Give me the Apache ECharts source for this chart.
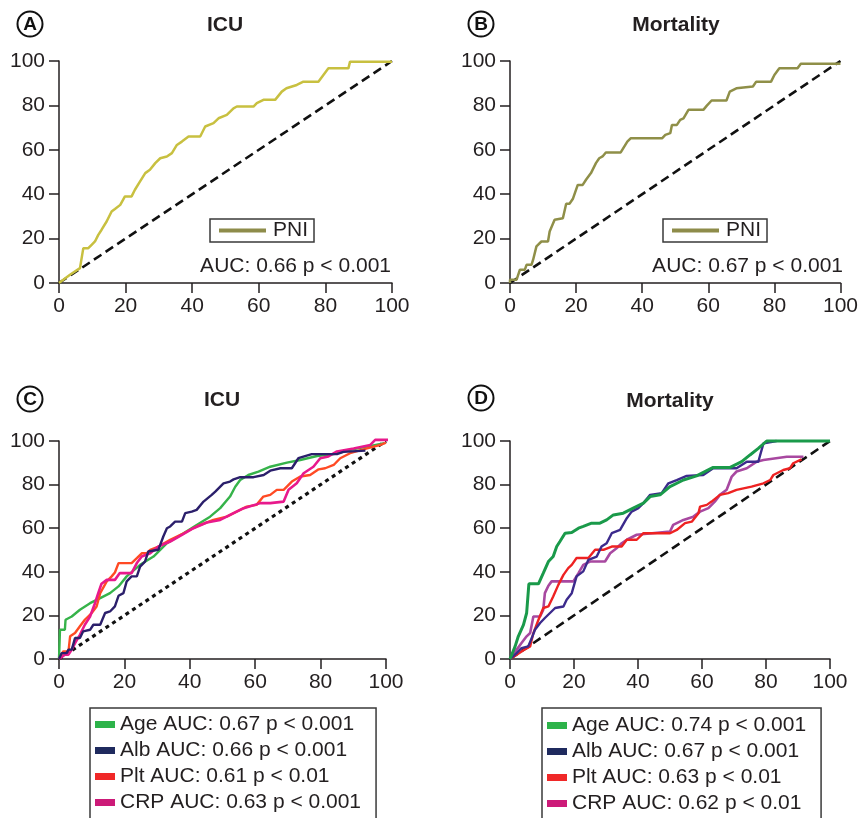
<!DOCTYPE html>
<html><head><meta charset="utf-8">
<script src="https://cdn.jsdelivr.net/npm/echarts@6/dist/echarts.min.js"></script>
<style>html,body{margin:0;padding:0;background:#fff}#c{width:861px;height:818px}</style>
</head><body><div id="c"></div>
<script>
// ---- data (x = 100 - specificity %, y = sensitivity %) ----
var ticks = [0, 20, 40, 60, 80, 100];
var diagonal = [[0,0],[100,100]];

var icuPNI = [[0,0],[3.3,3.7],[6.3,6.7],[7.3,15.7],[8.8,15.7],[9.8,17.2],[10.8,18.7],[11.8,21.7],[12.8,24],[14.3,27.7],[15.8,32.2],[16.8,33.3],[18.4,35.2],[19.8,39],[21.8,39],[22.8,42],[24.3,45.7],[25.9,49.5],[27.3,51],[28.9,54],[30.4,56.2],[32.4,57],[33.9,58.5],[35.4,62.2],[36.9,63.7],[38.9,66],[42.4,66],[43.9,70.5],[46.4,72],[47.9,74.2],[50.4,75.7],[52.4,78.7],[53.4,79.5],[58.4,79.5],[59.4,81],[61.4,82.5],[64.9,82.5],[66.9,86.2],[68.3,87.7],[71.4,89.2],[73.4,90.7],[77.9,90.7],[79.4,93.7],[80.9,96.7],[86.9,96.7],[87.4,99.7],[100,99.7]];

var mortPNI = [[0,0],[0,1.5],[2,1.5],[3,6],[4.5,6],[5,8.2],[6.5,8.2],[7,10.5],[8,16.5],[9.5,18.7],[11.5,18.7],[12,23.2],[13.5,28.5],[16,29.2],[17,35.7],[18,35.7],[19,37.8],[20.5,44.2],[22,44.2],[23,46.5],[24.5,49.5],[26,54],[27,56.2],[28,57],[29,58.8],[33.5,58.8],[35.5,63.7],[36.5,65.2],[46,65.2],[47,66.7],[48.5,67.5],[49,71.2],[50.5,71.2],[51.5,73.5],[52.5,74.2],[54,78],[58.5,78],[59.5,79.8],[61,82.2],[65.5,82.2],[66.5,86.2],[68.5,87.7],[69,88.5],[73.5,88.5],[74.5,90.7],[79,90.7],[80,93.7],[81.5,96.7],[87,96.7],[88,98.8],[100,98.8]];

var icuAge = [[0,0],[0.3,13.4],[1.8,13.4],[2,18],[3.9,19.5],[6.4,22.6],[9.5,25.6],[12.6,27.9],[15.6,30.2],[18.2,33.3],[20.7,37.9],[24.8,43.2],[28.9,47],[33,53.1],[38.1,57.7],[42.1,61.5],[46.2,65.3],[49.3,69.2],[52.3,74.5],[53.9,79],[55.4,82.1],[57.9,84.4],[61,86],[64.6,88.2],[69.7,90.1],[73.8,91.3],[78.9,93.1],[84,94],[89,95.9],[94.2,97.4],[99.5,99]];
var icuAlb = [[0,0],[0.8,2.7],[2.3,2.7],[2.9,4.3],[3.9,4.3],[4.9,9.6],[6.4,9.6],[7.4,12.7],[9.5,13.4],[10.5,15.7],[12.6,15.7],[14.1,21.1],[15.6,21.8],[17.1,24.1],[18.2,29],[19.7,30.2],[20.7,35.6],[22.2,37.9],[23.8,37.9],[24.8,42.4],[26.3,44.7],[27.3,49.3],[30.4,50.1],[31.9,56.2],[33,60],[34,60.8],[35.5,63],[37.6,63],[38.6,66.9],[40.6,67.6],[42.1,68.4],[44.2,72.2],[46.7,75.3],[47.8,76.8],[50.3,80.6],[52.3,81.4],[53.4,82.4],[55.4,83.4],[59.5,83.4],[62.6,84.4],[64.6,86.4],[67.7,87.5],[71.2,87.5],[73.2,92.1],[77.3,94],[85,94],[87,95],[93.7,95.6]];
var icuPlt = [[0,0],[1.3,3.5],[2.9,3.5],[3.4,10.4],[4.9,11.9],[6.4,15],[7.9,18],[10,21.1],[11.5,24.1],[12.6,30.2],[14.6,35.6],[16.1,37.9],[17.1,39.7],[18.2,44],[22.2,44],[23.8,46.3],[25.3,48.5],[26.8,48.5],[27.9,50.1],[30.4,51.6],[34,54.7],[38.1,57.7],[42.1,60.8],[47.2,63.8],[51.3,65.3],[54.3,67.6],[57.4,69.9],[60.4,70.7],[62.5,74.5],[64.6,75.3],[66.6,77.6],[68.7,77.6],[71.2,81.4],[73.8,83.7],[76.8,84.4],[79.4,87],[81.4,87.5],[84,89],[86,92.1],[89,94.4],[94.2,96.6],[98.3,98.2],[100,99.2]];
var icuCRP = [[0,0],[1.8,2],[2.9,2],[3.9,4.3],[4.9,7.3],[6.4,11.1],[7.9,15.7],[9.5,19.5],[11,25.6],[12,30.2],[13,34.5],[14.6,36.3],[17.1,36.3],[18.6,39.4],[22.2,39.4],[23.8,44],[25.3,47],[27.9,48.5],[30.4,51.6],[34,53.9],[37.6,56.9],[41.1,60],[45.2,62.6],[49.3,63.8],[53.4,66.9],[56.5,69.2],[61.6,71.5],[64.6,71.5],[68.7,72.2],[70.2,77.6],[72.7,80.6],[74.8,85.2],[77.8,88.2],[79.9,92.1],[82.4,92.9],[85,95.2],[90.1,96.6],[95.2,98.2],[96.7,100.5],[101.5,100.5]];

var mortAge = [[0,0],[1.6,5.8],[2.6,10.4],[4.2,15.7],[5.2,21.1],[5.7,21.8],[5.9,34.5],[8.9,34.5],[10.4,39.4],[12,44.7],[13.5,47],[14.6,51.6],[15.6,53.9],[17.2,57.7],[19.3,58],[21.4,60],[22.9,60.8],[25.5,62.3],[28.1,62.3],[30.2,63.8],[32.3,66.1],[35.4,66.9],[38.5,69.2],[41.7,71.5],[43.8,74.5],[46.9,75.3],[50,79.1],[54.2,82.1],[58.3,84],[61.5,86.4],[63.5,87.9],[68.8,87.9],[72.4,90.5],[75,93.6],[77.6,96.6],[80.2,100],[100,100]];
var mortAlb = [[0,0],[2.1,2.7],[3.6,5],[5.7,5.8],[6.8,9.6],[7.8,13.4],[9.4,16.5],[10.9,18.8],[12.5,21.1],[14.1,23.4],[16.7,24.1],[17.7,27.2],[19.3,30.2],[20.8,37.9],[22.9,40.2],[24.5,45.5],[27.1,47],[28.6,51.6],[30.2,53.1],[31.8,57.7],[34.4,59.2],[36.5,64.6],[38,67.6],[40.1,69.2],[41.7,71.5],[43.8,75.3],[47.4,76.1],[49.5,80.6],[52.1,82.1],[55.2,84],[60.4,84.4],[63.5,87.5],[70.8,87.5],[74,90.5],[77.6,90.5],[79.2,98.9],[80.2,99.2],[83.3,100]];
var mortPlt = [[0,0],[2.1,2],[4.2,4],[6.3,5.8],[7.3,11.9],[8.9,18],[10.4,23.4],[12,24.1],[13.5,28.7],[15.1,34],[16.7,38.6],[18.2,41.7],[19.3,43.2],[20.8,46.3],[24.5,46.3],[26.6,50.1],[29.2,50.1],[31.8,51.6],[34.9,51.6],[36.5,54.7],[39.6,54.7],[41.7,57.7],[50,57.7],[52.1,59.2],[54.7,62.3],[56.8,63],[58.9,66.9],[59.4,69.9],[61.5,70.7],[63,72.2],[65.6,75.3],[68.2,76.1],[70.8,77.6],[75.5,79.1],[79.2,80.6],[81.3,82.1],[82.3,84.4],[85.4,86.7],[87.5,87.5],[88.5,89.8],[91.1,91.6]];
var mortCRP = [[0,0],[2.1,4.3],[3.6,7.3],[5.2,10.4],[6.3,11.9],[7.3,19.5],[9.4,19.5],[10.4,22.6],[10.9,30.2],[12,33.6],[13,35.6],[19.8,35.6],[21.4,39.4],[22.9,43.2],[25,44.7],[29.7,44.7],[31.3,48.5],[33.3,50.8],[34.9,53.1],[36.5,54.7],[39.6,57],[50,58.5],[51,61.5],[54.2,63.8],[57.3,65.3],[59.4,67.6],[62,69.2],[64,72.2],[65.6,75.3],[67.7,77.6],[69.3,83.7],[70.8,86],[74,87.5],[77.1,90.5],[79.2,91.3],[86.5,92.8],[91.7,92.8]];

var namesC = ['Age AUC: 0.67 p < 0.001','Alb AUC: 0.66 p < 0.001','Plt AUC: 0.61 p < 0.01','CRP AUC: 0.63 p < 0.001'];
var namesD = ['Age AUC: 0.74 p < 0.001','Alb AUC: 0.67 p < 0.001','Plt AUC: 0.63 p < 0.01','CRP AUC: 0.62 p < 0.01'];
var aucA = 'AUC: 0.66 p < 0.001';
var aucB = 'AUC: 0.67 p < 0.001';

// ---- chart ----
var FONT = '"Liberation Sans", Arial, sans-serif';
var INK = '#231f20';
var chart = echarts.init(document.getElementById('c'), null, {renderer:'canvas'});

var grids = [
  {left:59, top:61, width:333, height:222},
  {left:510, top:61, width:333, height:222},
  {left:59, top:441, width:327, height:218},
  {left:510, top:441, width:320, height:218}
];
function xAx(i){return {type:'value', gridIndex:i, min:0, max:100, interval:20,
  axisLine:{show:true, lineStyle:{color:INK, width:1.5}},
  axisTick:{show:true, length:10, lineStyle:{color:INK, width:1.5}},
  axisLabel:{color:INK, fontSize:21, fontFamily:FONT, margin:13},
  splitLine:{show:false}};}
function yAx(i){return {type:'value', gridIndex:i, min:0, max:100, interval:20,
  axisLine:{show:true, lineStyle:{color:INK, width:1.5}},
  axisTick:{show:true, length:10, lineStyle:{color:INK, width:1.5}},
  axisLabel:{color:INK, fontSize:21, fontFamily:FONT, margin:14},
  splitLine:{show:false}};}
function curve(name, i, data, color, w, z){return {type:'line', name:name, xAxisIndex:i, yAxisIndex:i,
  data:data, showSymbol:false, symbol:'none', clip:false, animation:false, z:z||3,
  lineStyle:{color:color, width:w||2.5}, itemStyle:{color:color}};}
function diag(i, dash, w){return {type:'line', name:'ref'+i, xAxisIndex:i, yAxisIndex:i, data:diagonal,
  symbol:'none', clip:false, animation:false, z:2, silent:true,
  lineStyle:{color:'#111', width:w, type:dash}};}

var legendBase = {orient:'vertical', icon:'rect', selectedMode:false, borderColor:'#3a3a3a', borderWidth:1.5,
  textStyle:{fontSize:21, color:INK, fontFamily:FONT}};
var legColors = ['#2db34a','#1f2a5e','#f02828','#cc1a78'];

function letter(cx, cy, t){return {type:'group', children:[
  {type:'circle', shape:{cx:cx, cy:cy, r:12.5}, style:{fill:'none', stroke:'#111', lineWidth:2}},
  {type:'text', style:{x:cx, y:cy+1, text:t, align:'center', verticalAlign:'middle', font:'bold 19px '+FONT, fill:'#111'}}
]};}
function txt(x, y, t, align, bold){return {type:'text', style:{x:x, y:y, text:t, align:align, verticalAlign:'middle',
  font:(bold?'bold ':'')+'21px '+FONT, fill:INK}};}

var option = {
  animation:false,
  textStyle:{fontFamily:FONT},
  grid:grids,
  xAxis:[xAx(0),xAx(1),xAx(2),xAx(3)],
  yAxis:[yAx(0),yAx(1),yAx(2),yAx(3)],
  legend:[
    Object.assign({}, legendBase, {left:210, top:219, padding:[1,6,1,9], itemWidth:47, itemHeight:4,
      data:[{name:'PNI', itemStyle:{color:'#8e8c4a'}}], textStyle:Object.assign({}, legendBase.textStyle,{padding:[0,0,0,2]})}),
    Object.assign({}, legendBase, {left:663, top:219, padding:[1,6,1,9], itemWidth:47, itemHeight:4,
      data:[{name:'PNI', itemStyle:{color:'#8e8c4a'}}], textStyle:Object.assign({}, legendBase.textStyle,{padding:[0,0,0,2]})}),
    Object.assign({}, legendBase, {left:90, top:708, height:120, padding:[6,15,6,5], itemWidth:20, itemHeight:7, itemGap:5,
      data:namesC.map(function(n,k){return {name:n, itemStyle:{color:legColors[k]}};})}),
    Object.assign({}, legendBase, {left:542, top:708, height:120, padding:[7,15,6,5], itemWidth:20, itemHeight:7, itemGap:5,
      data:namesD.map(function(n,k){return {name:n, itemStyle:{color:legColors[k]}};})})
  ],
  graphic:[
    letter(30,24,'A'), letter(481,24,'B'), letter(30,399,'C'), letter(481,398,'D'),
    txt(225,25,'ICU','center',true), txt(676,25,'Mortality','center',true),
    txt(222,400,'ICU','center',true), txt(670,401,'Mortality','center',true),
    txt(391,266,aucA,'right',false), txt(843,266,aucB,'right',false)
  ],
  series:[
    diag(0,[9,5],2.6), curve('PNI',0,icuPNI,'#c8c040',2.5),
    diag(1,[9,5],2.6), curve('PNI',1,mortPNI,'#8f8f48',2.5),
    diag(2,[4,4],3.2),
    curve(namesC[0],2,icuAge,'#36b34a',2.4,3),
    curve(namesC[2],2,icuPlt,'#ff4a24',2.4,4),
    curve(namesC[3],2,icuCRP,'#e8198c',2.6,5),
    curve(namesC[1],2,icuAlb,'#2b1f6b',2.4,6),
    diag(3,[9,5],2.6),
    curve(namesD[3],3,mortCRP,'#a848a0',2.6,3),
    curve(namesD[2],3,mortPlt,'#ee2222',2.4,4),
    curve(namesD[1],3,mortAlb,'#3c2a8c',2.4,5),
    curve(namesD[0],3,mortAge,'#1a9a4a',3,6)
  ]
};
chart.setOption(option);
</script></body></html>
